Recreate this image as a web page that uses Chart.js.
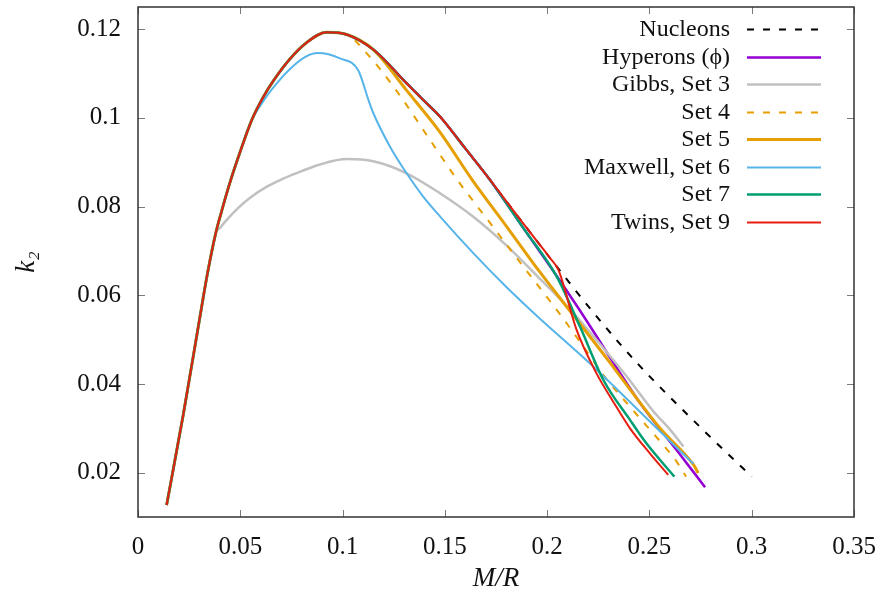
<!DOCTYPE html>
<html>
<head>
<meta charset="utf-8">
<script src="https://cdn.jsdelivr.net/npm/chart.js@4.4.0/dist/chart.umd.min.js"></script>
<style>
  body { margin: 0; background: #fff; font-family: 'Liberation Serif', serif; }
  #wrap { width: 881px; height: 601px; position: relative; }
</style>
</head>
<body>
<div id="wrap"><canvas id="grafico"></canvas></div>
<script>
// tick values / labels
const xTickValues = [0, 0.05, 0.1, 0.15, 0.2, 0.25, 0.3, 0.35];
const xTickLabels = ["0", "0.05", "0.1", "0.15", "0.2", "0.25", "0.3", "0.35"];
const yTickValues = [0.02, 0.04, 0.06, 0.08, 0.1, 0.12];
const yTickLabels = ["0.02", "0.04", "0.06", "0.08", "0.1", "0.12"];

// series labels (legend order)
const seriesLabels = ["Nucleons", "Hyperons (\u03D5)", "Gibbs, Set 3", "Set 4", "Set 5", "Maxwell, Set 6", "Set 7", "Twins, Set 9"];

// M/R and k2
const nucleonsX = [0.0140, 0.0221, 0.0295, 0.0340, 0.0380, 0.0409, 0.0450, 0.0499, 0.0556, 0.0610, 0.0661, 0.0743, 0.0825, 0.0922, 0.1020, 0.1150, 0.1313, 0.1395, 0.1476, 0.1600, 0.1721, 0.1850, 0.1950, 0.2014, 0.2226, 0.2438, 0.2763, 0.3000];
const nucleonsY = [0.0127, 0.0330, 0.0530, 0.0650, 0.0740, 0.0790, 0.0855, 0.0923, 0.0995, 0.1045, 0.1083, 0.1133, 0.1170, 0.1193, 0.1188, 0.1154, 0.1078, 0.1040, 0.1003, 0.0931, 0.0860, 0.0782, 0.0722, 0.0684, 0.0561, 0.0448, 0.0296, 0.0191];

const hyperonsX = [0.0140, 0.0221, 0.0295, 0.0340, 0.0380, 0.0409, 0.0450, 0.0499, 0.0556, 0.0610, 0.0661, 0.0743, 0.0825, 0.0922, 0.1020, 0.1150, 0.1313, 0.1395, 0.1476, 0.1600, 0.1721, 0.1883, 0.2040, 0.2161, 0.2356, 0.2454, 0.2645, 0.2772];
const hyperonsY = [0.0127, 0.0330, 0.0530, 0.0650, 0.0740, 0.0790, 0.0855, 0.0923, 0.0995, 0.1045, 0.1083, 0.1133, 0.1170, 0.1193, 0.1188, 0.1154, 0.1078, 0.1040, 0.1003, 0.0931, 0.0860, 0.0752, 0.0648, 0.0565, 0.0425, 0.0357, 0.0244, 0.0167];

const gibbsX = [0.0140, 0.0221, 0.0295, 0.0340, 0.0380, 0.0401, 0.0434, 0.0490, 0.0548, 0.0630, 0.0710, 0.0800, 0.0890, 0.1020, 0.1150, 0.1313, 0.1476, 0.1639, 0.1802, 0.1965, 0.2128, 0.2258, 0.2389, 0.2520, 0.2601, 0.2666];
const gibbsY = [0.0127, 0.0330, 0.0530, 0.0650, 0.0740, 0.0752, 0.0770, 0.0797, 0.0820, 0.0845, 0.0863, 0.0880, 0.0895, 0.0907, 0.0902, 0.0875, 0.0830, 0.0777, 0.0712, 0.0637, 0.0560, 0.0490, 0.0417, 0.0338, 0.0297, 0.0259];

const set4X = [0.0140, 0.0221, 0.0295, 0.0340, 0.0380, 0.0409, 0.0450, 0.0499, 0.0556, 0.0610, 0.0661, 0.0743, 0.0825, 0.0922, 0.1020, 0.1117, 0.1248, 0.1460, 0.1558, 0.1721, 0.1883, 0.2047, 0.2161, 0.2275, 0.2421, 0.2568, 0.2633, 0.2679];
const set4Y = [0.0127, 0.0330, 0.0530, 0.0650, 0.0740, 0.0790, 0.0855, 0.0923, 0.0995, 0.1045, 0.1083, 0.1133, 0.1170, 0.1193, 0.1188, 0.1146, 0.1071, 0.0928, 0.0862, 0.0763, 0.0665, 0.0567, 0.0495, 0.0420, 0.0340, 0.0262, 0.0225, 0.0191];

const set5X = [0.0140, 0.0221, 0.0295, 0.0340, 0.0380, 0.0409, 0.0450, 0.0499, 0.0556, 0.0610, 0.0661, 0.0743, 0.0825, 0.0922, 0.1020, 0.1150, 0.1313, 0.1476, 0.1631, 0.1802, 0.1965, 0.2128, 0.2291, 0.2340, 0.2552, 0.2715, 0.2739];
const set5Y = [0.0127, 0.0330, 0.0530, 0.0650, 0.0740, 0.0790, 0.0855, 0.0923, 0.0995, 0.1045, 0.1083, 0.1133, 0.1170, 0.1193, 0.1188, 0.1154, 0.1062, 0.0968, 0.0862, 0.0755, 0.0652, 0.0555, 0.0458, 0.0428, 0.0300, 0.0218, 0.0199];

const set6X = [0.0140, 0.0221, 0.0295, 0.0340, 0.0380, 0.0409, 0.0450, 0.0499, 0.0556, 0.0610, 0.0661, 0.0743, 0.0820, 0.0880, 0.0987, 0.1077, 0.1126, 0.1150, 0.1232, 0.1313, 0.1395, 0.1476, 0.1639, 0.1802, 0.1965, 0.2128, 0.2242, 0.2536, 0.2715];
const set6Y = [0.0127, 0.0330, 0.0530, 0.0650, 0.0740, 0.0790, 0.0855, 0.0923, 0.0995, 0.1036, 0.1068, 0.1110, 0.1138, 0.1146, 0.1134, 0.1107, 0.1041, 0.1011, 0.0935, 0.0875, 0.0822, 0.0778, 0.0695, 0.0618, 0.0547, 0.0480, 0.0432, 0.0300, 0.0220];

const set7X = [0.0140, 0.0221, 0.0295, 0.0340, 0.0380, 0.0409, 0.0450, 0.0499, 0.0556, 0.0610, 0.0661, 0.0743, 0.0825, 0.0922, 0.1020, 0.1150, 0.1313, 0.1395, 0.1476, 0.1600, 0.1721, 0.1883, 0.2047, 0.2161, 0.2275, 0.2405, 0.2487, 0.2622];
const set7Y = [0.0127, 0.0330, 0.0530, 0.0650, 0.0740, 0.0790, 0.0855, 0.0923, 0.0995, 0.1045, 0.1083, 0.1133, 0.1170, 0.1193, 0.1188, 0.1154, 0.1078, 0.1040, 0.1003, 0.0931, 0.0860, 0.0752, 0.0642, 0.0529, 0.0409, 0.0319, 0.0265, 0.0191];

const set9X = [0.0140, 0.0221, 0.0295, 0.0340, 0.0380, 0.0409, 0.0450, 0.0499, 0.0556, 0.0610, 0.0661, 0.0743, 0.0825, 0.0922, 0.1020, 0.1150, 0.1313, 0.1395, 0.1476, 0.1600, 0.1721, 0.1850, 0.1950, 0.2014, 0.2055, 0.2144, 0.2240, 0.2323, 0.2405, 0.2503, 0.2592];
const set9Y = [0.0127, 0.0330, 0.0530, 0.0650, 0.0740, 0.0790, 0.0855, 0.0923, 0.0995, 0.1045, 0.1083, 0.1133, 0.1170, 0.1193, 0.1188, 0.1154, 0.1078, 0.1040, 0.1003, 0.0931, 0.0860, 0.0782, 0.0722, 0.0684, 0.0657, 0.0522, 0.0425, 0.0360, 0.0300, 0.0243, 0.0195];

const FONT = "'Liberation Serif', 'DejaVu Serif', serif";

function pts(xs, ys) {
  return xs.map((x, i) => ({ x: x, y: ys[i] }));
}

// gnuplot style frame with inward ticks on all four sides
const framePlugin = {
  id: "frame",
  afterDraw(chart) {
    const { ctx, chartArea: a, scales } = chart;
    ctx.save();
    ctx.strokeStyle = "#7a7a7a";
    ctx.lineWidth = 1;
    const tl = 7;
    ctx.beginPath();
    xTickValues.forEach(v => {
      const px = Math.round(scales.x.getPixelForValue(v)) + 0.5;
      ctx.moveTo(px, a.bottom); ctx.lineTo(px, a.bottom - tl);
      ctx.moveTo(px, a.top); ctx.lineTo(px, a.top + tl);
    });
    yTickValues.forEach(v => {
      const py = Math.round(scales.y.getPixelForValue(v)) + 0.5;
      ctx.moveTo(a.left, py); ctx.lineTo(a.left + tl, py);
      ctx.moveTo(a.right, py); ctx.lineTo(a.right - tl, py);
    });
    ctx.stroke();
    ctx.strokeStyle = "#333";
    ctx.lineWidth = 1.5;
    ctx.strokeRect(a.left, a.top, a.right - a.left, a.bottom - a.top);
    ctx.restore();
  }
};

// legend drawn inside the plot, text right aligned with sample on the right
const keyPlugin = {
  id: "key",
  afterDraw(chart) {
    const { ctx, chartArea: a } = chart;
    ctx.save();
    ctx.font = "24px " + FONT;
    ctx.fillStyle = "#111";
    ctx.textAlign = "right";
    ctx.textBaseline = "middle";
    chart.data.datasets.forEach((ds, i) => {
      const y = a.top + 22 + i * 27.5;
      ctx.fillText(ds.label, a.right - 124, y + 1);
      ctx.strokeStyle = ds.borderColor;
      ctx.lineWidth = ds.borderWidth;
      ctx.setLineDash(ds.borderDash || []);
      ctx.beginPath();
      ctx.moveTo(a.right - 107, Math.round(y) + 0.5);
      ctx.lineTo(a.right - 33, Math.round(y) + 0.5);
      ctx.stroke();
    });
    ctx.restore();
  }
};

function noPad(s) {
  s.paddingLeft = 0; s.paddingRight = 0; s.paddingTop = 0; s.paddingBottom = 0;
}

const seriesX = [nucleonsX, hyperonsX, gibbsX, set4X, set5X, set6X, set7X, set9X];
const seriesY = [nucleonsY, hyperonsY, gibbsY, set4Y, set5Y, set6Y, set7Y, set9Y];
const colors = ["#000000", "#9400d3", "#c0c0c0", "#e69f00", "#e69f00", "#56b4e9", "#009e73", "#e51e10"];
const widths = [2, 2.5, 2.5, 2, 3, 2, 2.5, 2];
const dashes = [[7, 9], [], [], [7, 9], [], [], [], []];

const datasets = seriesLabels.map((label, i) => ({
  label: label,
  data: pts(seriesX[i], seriesY[i]),
  borderColor: colors[i],
  borderWidth: widths[i],
  borderDash: dashes[i],
  pointRadius: 0,
  fill: false,
  cubicInterpolationMode: "monotone",
  order: seriesLabels.length - i
}));

const chart = new Chart(document.getElementById("grafico"), {
  type: "line",
  data: { datasets: datasets },
  options: {
    responsive: true,
    maintainAspectRatio: false,
    animation: false,
    layout: { padding: { top: 7, right: 27, left: 0, bottom: 0 } },
    plugins: { legend: { display: false }, tooltip: { enabled: false } },
    scales: {
      x: {
        type: "linear",
        min: 0,
        max: 0.35,
        afterBuildTicks: s => { s.ticks = xTickValues.map(v => ({ value: v })); },
        afterFit: s => { s.height = 84; noPad(s); },
        grid: { display: false, drawTicks: false },
        border: { display: false },
        ticks: {
          color: "#111",
          font: { family: FONT, size: 25 },
          padding: 15,
          maxRotation: 0,
          callback: (v, i) => xTickLabels[i]
        },
        title: {
          display: true,
          text: "M/R",
          color: "#111",
          font: { family: FONT, size: 27, style: "italic" },
          padding: { top: 0, bottom: 6 }
        }
      },
      y: {
        type: "linear",
        min: 0.01,
        max: 0.125,
        afterBuildTicks: s => { s.ticks = yTickValues.map(v => ({ value: v })); },
        afterFit: s => { s.width = 138; noPad(s); },
        grid: { display: false, drawTicks: false },
        border: { display: false },
        ticks: {
          color: "#111",
          font: { family: FONT, size: 25 },
          padding: 17,
          callback: (v, i) => yTickLabels[i]
        },
        title: {
          display: true,
          text: "k\u2082",
          color: "#111",
          font: { family: FONT, size: 27, style: "italic" },
          padding: { top: 11, bottom: 0 }
        }
      }
    }
  },
  plugins: [framePlugin, keyPlugin]
});

// redraw once the serif faces are ready, canvas text does not wait for them
if (document.fonts) {
  Promise.all([
    document.fonts.load("25px 'Liberation Serif'"),
    document.fonts.load("italic 27px 'Liberation Serif'")
  ]).then(() => chart.update());
}
</script>
</body>
</html>
